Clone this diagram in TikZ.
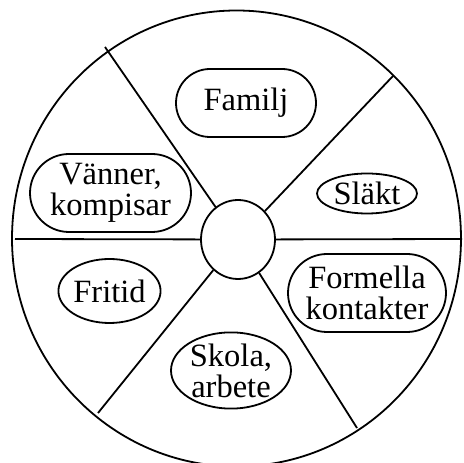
\documentclass[tikz,border=0pt]{standalone}
\usepackage{fontspec}
\setmainfont{Liberation Serif}
\usetikzlibrary{shapes.geometric, shapes.misc}
\begin{document}
\begin{tikzpicture}[x=1pt, y=1pt, line width=1.8pt,
  area/.style={draw, align=center, inner sep=0pt, font=\fontsize{32.5}{31}\selectfont},
  pill/.style={area, rounded rectangle},
  oval/.style={area, ellipse}]
\useasboundingbox (0,0) rectangle (464,463);
\draw (236.5,224.5) ellipse [x radius=224.5pt, y radius=228pt];
\node[draw, ellipse, minimum width=74pt, minimum height=79pt, inner sep=0pt] (h) at (238,223.5) {};

\coordinate (o1) at (462,224);
\coordinate (o2) at (393,387);
\coordinate (o3) at (105,416);
\coordinate (o4) at (15,224);
\coordinate (o5) at (98,50);
\coordinate (o6) at (357,35);

\draw (h) -- (o1);
\draw (h) -- (o2);
\draw (h) -- (o3);
\draw (h) -- (o4);
\draw (h) -- (o5);
\draw (h) -- (o6);

\node[pill, minimum width=140pt, minimum height=68pt] (c1) at (246,360) {Familj};
\node[oval, minimum width=100pt, minimum height=40pt] (c2) at (367,269.5) {Släkt};
\node[pill, minimum width=161pt, minimum height=78pt] (c3) at (110.5,270) {Vänner,\\kompisar};
\node[oval, minimum width=93pt, minimum height=64pt] (c4) at (109.5,172) {Fritid};
\node[pill, minimum width=158pt, minimum height=78pt] (c5) at (367,170) {Formella\\kontakter};
\node[oval, minimum width=120pt, minimum height=59pt] (c6) at (231,92.5) {Skola,\\arbete};
\end{tikzpicture}
\end{document}
